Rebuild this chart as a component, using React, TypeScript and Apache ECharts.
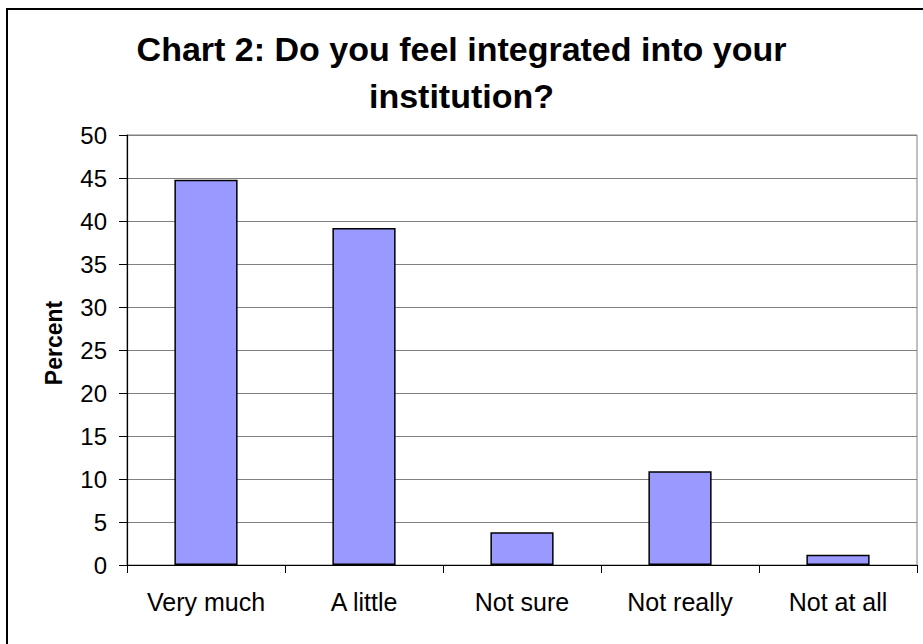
import React, { useEffect, useRef } from "react";
import * as echarts from "echarts";

const categories = ["Very much", "A little", "Not sure", "Not really", "Not at all"];
const percentValues = [44.8, 39.2, 3.8, 10.9, 1.2];
const yTicks = { min: 0, max: 50, interval: 5 };
const titleText = "Chart 2: Do you feel integrated into your\ninstitution?";
const yAxisTitle = "Percent";

export default function App() {
  const ref = useRef<HTMLDivElement>(null);
  useEffect(() => {
    if (!ref.current) return;
    const chart = echarts.init(ref.current, null, { renderer: "svg" });
    const font = "'Liberation Sans', Arial, sans-serif";
    chart.setOption({
      animation: false,
      backgroundColor: "#ffffff",
      title: {
        text: titleText,
        left: "center",
        top: 20,
        textStyle: {
          fontFamily: font,
          fontWeight: "bold",
          fontSize: 34,
          lineHeight: 47,
          color: "#000",
        },
      },
      grid: {
        left: 127,
        top: 135,
        right: 6,
        bottom: 79,
        show: true,
        borderColor: "#808080",
        borderWidth: 1,
        backgroundColor: "transparent",
      },
      xAxis: {
        type: "category",
        data: categories,
        axisLine: { lineStyle: { color: "#000", width: 1.2 } },
        axisTick: { show: true, length: 8, lineStyle: { color: "#000" } },
        axisLabel: {
          fontFamily: font,
          fontSize: 25,
          color: "#000",
          margin: 24,
        },
      },
      yAxis: {
        type: "value",
        min: yTicks.min,
        max: yTicks.max,
        interval: yTicks.interval,
        name: yAxisTitle,
        nameLocation: "middle",
        nameGap: 62,
        nameTextStyle: {
          fontFamily: font,
          fontWeight: "bold",
          fontSize: 23,
          color: "#000",
          padding: [0, 0, 0, 14],
        },
        axisLine: { show: true, lineStyle: { color: "#000", width: 1.2 } },
        axisTick: { show: true, length: 8, lineStyle: { color: "#000" } },
        axisLabel: {
          fontFamily: font,
          fontSize: 24,
          color: "#000",
          margin: 20,
        },
        splitLine: { show: true, lineStyle: { color: "#808080", width: 1 } },
      },
      series: [
        {
          type: "bar",
          data: percentValues,
          barCategoryGap: "60%",
          itemStyle: {
            color: "#9999FF",
            borderColor: "#000",
            borderWidth: 1.5,
          },
        },
      ],
      graphic: [
        {
          type: "line",
          shape: { x1: 7, y1: 9, x2: 7, y2: 644 },
          style: { stroke: "#000", lineWidth: 2 },
        },
        {
          type: "line",
          shape: { x1: 6, y1: 9, x2: 923, y2: 9 },
          style: { stroke: "#000", lineWidth: 2 },
        },
      ],
    });
    return () => chart.dispose();
  }, []);
  return (
    <div
      ref={ref}
      style={{ position: "fixed", left: 0, top: 0, width: 923, height: 644 }}
    />
  );
}
